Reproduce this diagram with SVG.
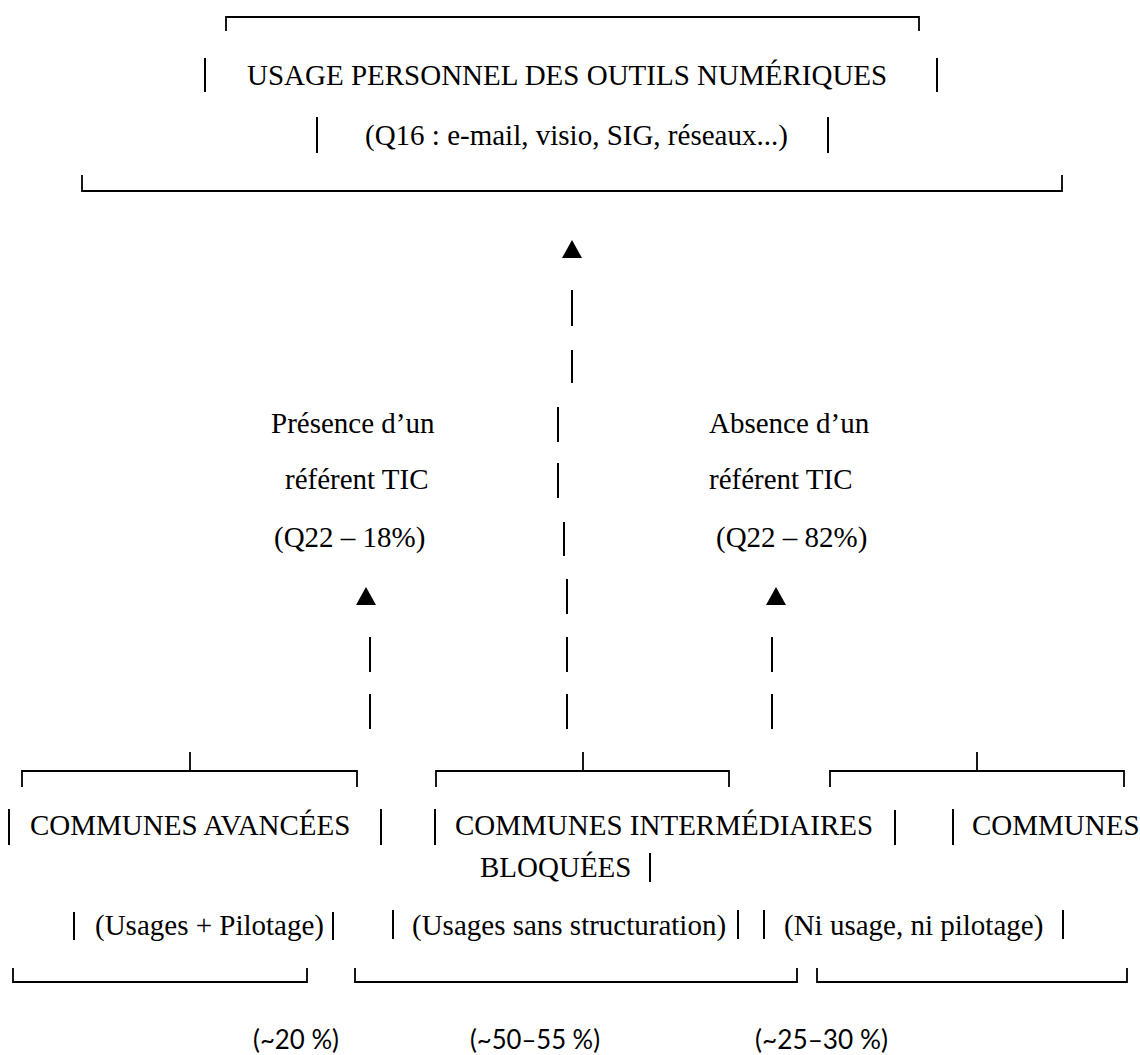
<svg xmlns="http://www.w3.org/2000/svg" width="1140" height="1055" viewBox="0 0 1140 1055">
  <style>
    .t { font-family: "Liberation Serif", "Times New Roman", serif; font-size: 29px; fill: #000; }
    .p { font-family: Lato, "Noto Sans", sans-serif; font-size: 26px; fill: #000; }
    .ln { stroke: #000; stroke-width: 1.8; fill: none; }
    .bar { stroke: #000; stroke-width: 2; fill: none; }
    .dash { stroke: #000; stroke-width: 2; fill: none; }
  </style>
  <defs>
    <!-- upward arrowhead, apex at the origin -->
    <path id="tri" d="M0,0 L10,18 L-10,18 Z" fill="#000"/>
  </defs>

  <rect width="1140" height="1055" fill="#fff"/>

  <!-- top node: personal use of digital tools -->
  <g id="node-usage-personnel">
    <path class="ln" d="M226,31 V17 H919 V31"/>
    <path class="bar" d="M205,58 V92 M937,58 V92 M317,117 V153 M828,117 V153"/>
    <text class="t" x="247" y="85">USAGE PERSONNEL DES OUTILS NUMÉRIQUES</text>
    <text class="t" x="365" y="145">(Q16 : e-mail, visio, SIG, réseaux...)</text>
    <path class="ln" d="M82,175 V191 H1062 V175"/>
  </g>

  <!-- side labels -->
  <g id="label-presence">
    <text class="t" x="271" y="433">Présence d’un</text>
    <text class="t" x="285" y="489">référent TIC</text>
    <text class="t" x="274" y="547">(Q22 – 18%)</text>
  </g>
  <g id="label-absence">
    <text class="t" x="709" y="433">Absence d’un</text>
    <text class="t" x="709" y="489">référent TIC</text>
    <text class="t" x="716" y="547">(Q22 – 82%)</text>
  </g>

  <!-- connectors: dashed upward arrows -->
  <g id="connectors">
    <use href="#tri" x="572" y="240"/>
    <path class="dash" d="M572,290 V326 M572,350 V383 M558,407 V442 M558,463 V498 M564,522 V556 M567,579 V614 M567,637 V672 M567,694 V729"/>
    <use href="#tri" x="366" y="587"/>
    <path class="dash" d="M370,637 V672 M370,694 V729"/>
    <use href="#tri" x="776" y="587"/>
    <path class="dash" d="M772,637 V672 M772,694 V729"/>
  </g>

  <!-- advanced municipalities -->
  <g id="node-avancees">
    <path class="ln" d="M22,787 V771 H357 V787 M190,752 V771"/>
    <path class="bar" d="M9,809 V845 M381,809 V845 M74,912 V940 M333,912 V940"/>
    <text class="t" x="30" y="835">COMMUNES AVANCÉES</text>
    <text class="t" x="95" y="935">(Usages + Pilotage)</text>
    <path class="ln" d="M13,968 V982 H307 V968"/>
    <text class="p" x="253" y="1049" textLength="86" lengthAdjust="spacingAndGlyphs">(~20 %)</text>
  </g>

  <!-- intermediate, blocked municipalities -->
  <g id="node-intermediaires">
    <path class="ln" d="M436,787 V771 H729 V787 M583,752 V771"/>
    <path class="bar" d="M435,809 V845 M895,810 V845 M650,853 V882 M393,910 V939 M738,910 V939"/>
    <text class="t" x="455" y="835">COMMUNES INTERMÉDIAIRES</text>
    <text class="t" x="480" y="877">BLOQUÉES</text>
    <text class="t" x="412" y="935">(Usages sans structuration)</text>
    <path class="ln" d="M355,968 V982 H797 V968"/>
    <text class="p" x="470" y="1049" textLength="130" lengthAdjust="spacingAndGlyphs">(~50–55 %)</text>
  </g>

  <!-- municipalities with neither use nor steering -->
  <g id="node-sans-usage">
    <path class="ln" d="M830,787 V771 H1124 V787 M977,752 V771"/>
    <path class="bar" d="M953,809 V845 M764,910 V939 M1063,910 V939"/>
    <text class="t" x="972" y="835">COMMUNES</text>
    <text class="t" x="784" y="935">(Ni usage, ni pilotage)</text>
    <path class="ln" d="M817,968 V982 H1127 V968"/>
    <text class="p" x="755" y="1049" textLength="133" lengthAdjust="spacingAndGlyphs">(~25–30 %)</text>
  </g>
</svg>
